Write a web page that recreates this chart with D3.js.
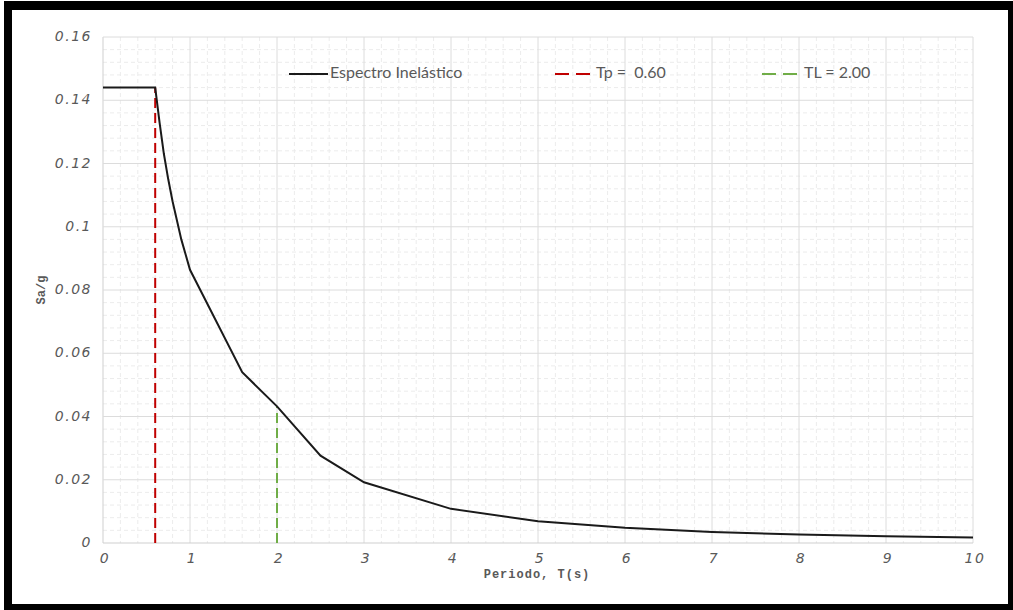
<!DOCTYPE html>
<html>
<head>
<meta charset="utf-8">
<script src="https://cdn.jsdelivr.net/npm/d3@7"></script>
<style>
  body { margin: 0; background: #fff; }
  .tick-label { font-family: "DejaVu Sans", sans-serif; font-style: italic; font-size: 14px; fill: #595959; letter-spacing: 1.5px; }
  .axis-title { font-family: "Liberation Mono", monospace; font-weight: bold; font-size: 12px; fill: #595959; }
  .legend-text { font-family: "Lato", sans-serif; font-size: 16px; fill: #595959; white-space: pre; }
</style>
</head>
<body>
<svg id="chart"></svg>
<script>
// spectrum points
var periods = [0, 0.6, 0.65, 0.7, 0.75, 0.8, 0.9, 1.0, 1.6, 2.0, 2.5, 3, 4, 5, 6, 7, 8, 9, 10];
var saValues = [0.144, 0.144, 0.133, 0.123, 0.115, 0.108, 0.096, 0.0864, 0.054, 0.0432, 0.0276, 0.0192, 0.0108, 0.0069, 0.0048, 0.0035, 0.0027, 0.0021, 0.0017];
var tp = 0.6;
var tl = 2.0;
var xTicks = [0, 1, 2, 3, 4, 5, 6, 7, 8, 9, 10];
var yTicks = [0, 0.02, 0.04, 0.06, 0.08, 0.1, 0.12, 0.14, 0.16];
var legendLabels = ["Espectro Inelástico", "Tp =  0.60", "TL = 2.00"];

var svgWidth = 1013;
var svgHeight = 610;
var margin = {top: 37, right: 40, bottom: 67, left: 103};
var chartWidth = svgWidth - margin.left - margin.right;
var chartHeight = svgHeight - margin.top - margin.bottom;

var svg = d3.select("#chart")
  .attr("width", svgWidth)
  .attr("height", svgHeight);

// black frame
svg.append("rect").attr("x", 4).attr("y", 1).attr("width", 1009).attr("height", 609).attr("fill", "#000");
svg.append("rect").attr("x", 12).attr("y", 10).attr("width", 996).attr("height", 594).attr("fill", "#fff");

var chart = svg.append("g")
  .attr("transform", `translate(${margin.left},${margin.top})`);

var xScale = d3.scaleLinear().domain([0, 10]).range([0, chartWidth]);
var yScale = d3.scaleLinear().domain([0, 0.16]).range([chartHeight, 0]);

// minor dashed grid
var xMinor = d3.range(0, 10.001, 0.2).filter(function(d) { return Math.abs(d - Math.round(d)) > 0.01; });
var yMinor = d3.range(0, 0.16001, 0.004).filter(function(d) { return Math.abs(d / 0.02 - Math.round(d / 0.02)) > 0.01; });

chart.selectAll(".xminor").data(xMinor).enter().append("line")
  .attr("x1", function(d) { return xScale(d); })
  .attr("x2", function(d) { return xScale(d); })
  .attr("y1", 0).attr("y2", chartHeight)
  .attr("stroke", "#ececec").attr("stroke-dasharray", "4,3");
chart.selectAll(".yminor").data(yMinor).enter().append("line")
  .attr("x1", 0).attr("x2", chartWidth)
  .attr("y1", function(d) { return yScale(d); })
  .attr("y2", function(d) { return yScale(d); })
  .attr("stroke", "#ececec").attr("stroke-dasharray", "4,3");

// major grid
chart.selectAll(".xmajor").data(xTicks).enter().append("line")
  .attr("x1", function(d) { return xScale(d); })
  .attr("x2", function(d) { return xScale(d); })
  .attr("y1", 0).attr("y2", chartHeight)
  .attr("stroke", function(d) { return d === 0 ? "#cfcfcf" : "#dcdcdc"; });
chart.selectAll(".ymajor").data(yTicks).enter().append("line")
  .attr("x1", 0).attr("x2", chartWidth)
  .attr("y1", function(d) { return yScale(d); })
  .attr("y2", function(d) { return yScale(d); })
  .attr("stroke", function(d) { return d === 0 ? "#cfcfcf" : "#dcdcdc"; });

// tick labels
chart.selectAll(".xlab").data(xTicks).enter().append("text")
  .attr("class", "tick-label")
  .attr("x", function(d) { return xScale(d) + 2; })
  .attr("y", chartHeight + 16)
  .attr("text-anchor", "middle")
  .attr("dominant-baseline", "middle")
  .text(function(d) { return d; });
chart.selectAll(".ylab").data(yTicks).enter().append("text")
  .attr("class", "tick-label")
  .attr("x", -11)
  .attr("y", function(d) { return yScale(d); })
  .attr("text-anchor", "end")
  .attr("dominant-baseline", "middle")
  .text(function(d) { return d; });

// axis titles
chart.append("text")
  .attr("class", "axis-title")
  .attr("x", chartWidth / 2 - 1)
  .attr("y", chartHeight + 32)
  .attr("text-anchor", "middle")
  .attr("dominant-baseline", "middle")
  .style("letter-spacing", "1px")
  .text("Periodo, T(s)");
chart.append("text")
  .attr("class", "axis-title")
  .attr("transform", "rotate(-90)")
  .attr("x", -chartHeight / 2)
  .attr("y", -61)
  .attr("text-anchor", "middle")
  .attr("dominant-baseline", "middle")
  .text("Sa/g");

// Tp and TL markers
var tpIndex = periods.indexOf(tp);
var tlIndex = periods.indexOf(tl);
chart.append("line")
  .attr("x1", xScale(tp)).attr("x2", xScale(tp))
  .attr("y1", yScale(0)).attr("y2", yScale(saValues[tpIndex]))
  .attr("stroke", "#c00000").attr("stroke-width", 2).attr("stroke-dasharray", "10,5");
chart.append("line")
  .attr("x1", xScale(tl)).attr("x2", xScale(tl))
  .attr("y1", yScale(0)).attr("y2", yScale(saValues[tlIndex]))
  .attr("stroke", "#70ad47").attr("stroke-width", 2).attr("stroke-dasharray", "10,5");

// spectrum
var line = d3.line()
  .x(function(d, i) { return xScale(periods[i]); })
  .y(function(d) { return yScale(d); });
chart.append("path")
  .datum(saValues)
  .attr("d", line)
  .attr("fill", "none")
  .attr("stroke", "#1a1a1a")
  .attr("stroke-width", 2);

// legend
var legendX = [186, 452, 659];
var legendColors = ["#1a1a1a", "#c00000", "#70ad47"];
var legendDash = [null, "14,7", "14,7"];
var legend = chart.selectAll(".legend").data(legendLabels).enter().append("g")
  .attr("transform", function(d, i) { return `translate(${legendX[i]},37)`; });
legend.append("line")
  .attr("x1", 0).attr("x2", function(d, i) { return i === 0 ? 39 : 35; })
  .attr("y1", 0).attr("y2", 0)
  .attr("stroke", function(d, i) { return legendColors[i]; })
  .attr("stroke-width", 2)
  .attr("stroke-dasharray", function(d, i) { return legendDash[i]; });
legend.append("text")
  .attr("class", "legend-text")
  .attr("x", function(d, i) { return i === 2 ? 42 : 41; })
  .attr("y", 0)
  .attr("dominant-baseline", "middle")
  .text(function(d) { return d; });
</script>
</body>
</html>
